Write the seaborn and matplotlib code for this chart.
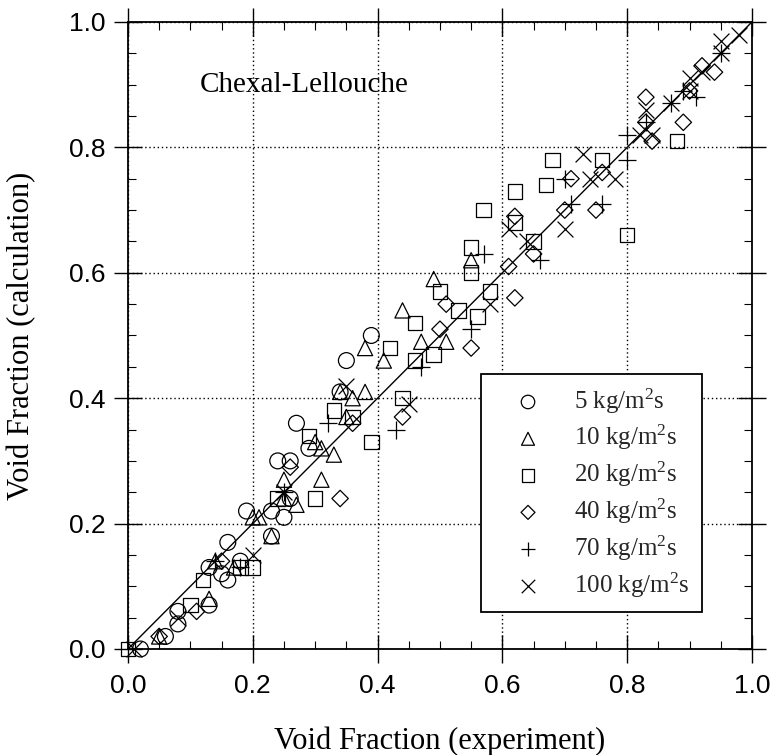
import matplotlib
matplotlib.use("Agg")
import matplotlib.pyplot as plt
import seaborn as sns
import pandas as pd
from matplotlib.ticker import MultipleLocator

# ---------------- data ----------------
g5_x = [0.02, 0.06, 0.08, 0.08, 0.13, 0.13, 0.15, 0.16, 0.16, 0.18, 0.19, 0.23, 0.23,
        0.24, 0.25, 0.26, 0.26, 0.27, 0.29, 0.34, 0.35, 0.39]
g5_y = [0.00, 0.02, 0.06, 0.04, 0.13, 0.07, 0.12, 0.17, 0.11, 0.14, 0.22, 0.22, 0.18,
        0.30, 0.21, 0.30, 0.24, 0.36, 0.32, 0.41, 0.46, 0.50]

g10_x = [0.05, 0.13, 0.14, 0.17, 0.20, 0.21, 0.23, 0.25, 0.25, 0.27, 0.30, 0.31, 0.33,
         0.31, 0.34, 0.35, 0.36, 0.38, 0.38, 0.41, 0.44, 0.47, 0.49, 0.51, 0.55]
g10_y = [0.02, 0.08, 0.14, 0.13, 0.21, 0.21, 0.18, 0.27, 0.24, 0.23, 0.33, 0.32, 0.31,
         0.27, 0.41, 0.37, 0.40, 0.41, 0.48, 0.46, 0.54, 0.49, 0.59, 0.49, 0.62]

g20_x = [0.00, 0.10, 0.12, 0.18, 0.20, 0.24, 0.29, 0.30, 0.33, 0.36, 0.39, 0.42, 0.44,
         0.46, 0.46, 0.49, 0.50, 0.53, 0.55, 0.55, 0.56, 0.58, 0.57, 0.62, 0.62, 0.65,
         0.67, 0.68, 0.76, 0.80, 0.88]
g20_y = [0.00, 0.07, 0.11, 0.13, 0.13, 0.24, 0.34, 0.24, 0.38, 0.37, 0.33, 0.48, 0.40,
         0.52, 0.46, 0.47, 0.57, 0.54, 0.64, 0.60, 0.53, 0.57, 0.70, 0.73, 0.68, 0.65,
         0.74, 0.78, 0.78, 0.66, 0.81]

g40_x = [0.05, 0.11, 0.15, 0.26, 0.34, 0.36, 0.44, 0.50, 0.51, 0.55, 0.61, 0.62, 0.62,
         0.65, 0.70, 0.71, 0.75, 0.76, 0.83, 0.83, 0.84, 0.89, 0.90, 0.92, 0.94]
g40_y = [0.02, 0.06, 0.14, 0.29, 0.24, 0.36, 0.37, 0.51, 0.55, 0.48, 0.61, 0.56, 0.69,
         0.63, 0.70, 0.75, 0.70, 0.76, 0.88, 0.84, 0.81, 0.84, 0.89, 0.93, 0.92]

g70_x = [0.14, 0.18, 0.25, 0.32, 0.43, 0.47, 0.55, 0.57, 0.66, 0.70, 0.71, 0.76, 0.80,
         0.80, 0.83, 0.87, 0.89, 0.91, 0.95]
g70_y = [0.14, 0.13, 0.25, 0.36, 0.35, 0.45, 0.51, 0.63, 0.62, 0.75, 0.71, 0.71, 0.78,
         0.82, 0.84, 0.87, 0.89, 0.88, 0.95]

g100_x = [0.01, 0.08, 0.20, 0.25, 0.35, 0.45, 0.58, 0.61, 0.64, 0.70, 0.73, 0.74, 0.78,
          0.82, 0.83, 0.84, 0.87, 0.90, 0.90, 0.92, 0.95, 0.95, 0.98]
g100_y = [0.00, 0.05, 0.15, 0.25, 0.42, 0.39, 0.55, 0.67, 0.65, 0.67, 0.79, 0.75, 0.75,
          0.82, 0.86, 0.82, 0.87, 0.91, 0.89, 0.92, 0.97, 0.95, 0.98]

series_labels = ["5 kg/m$^2$s", "10 kg/m$^2$s", "20 kg/m$^2$s",
                 "40 kg/m$^2$s", "70 kg/m$^2$s", "100 kg/m$^2$s"]
tick_values = [0.0, 0.2, 0.4, 0.6, 0.8, 1.0]
tick_labels = ["0.0", "0.2", "0.4", "0.6", "0.8", "1.0"]
x_label = "Void Fraction (experiment)"
y_label = "Void Fraction (calculation)"
annotation = "Chexal-Lellouche"

# ---------------- styling ----------------
sns.set_theme(style="white")
plt.rcParams["font.family"] = ["Liberation Serif", "DejaVu Serif"]
plt.rcParams["mathtext.fontset"] = "custom"
plt.rcParams["mathtext.rm"] = "Liberation Serif"
plt.rcParams["mathtext.it"] = "Liberation Serif:italic"
plt.rcParams["mathtext.bf"] = "Liberation Serif:bold"

fig = plt.figure(figsize=(7.76, 7.55), dpi=100)
ax = fig.add_axes([0.1649, 0.1404, 0.8041, 0.8305])

all_x = [g5_x, g10_x, g20_x, g40_x, g70_x, g100_x]
all_y = [g5_y, g10_y, g20_y, g40_y, g70_y, g100_y]
markers = ["o", "^", "s", "D", "+", "x"]
sizes = [130, 120, 110, 70, 150, 130]
filled = [True, True, True, True, False, False]

frames = []
for lab, xs, ys in zip(series_labels, all_x, all_y):
    frames.append(pd.DataFrame({"exp": xs, "calc": ys, "flux": lab}))
df = pd.concat(frames, ignore_index=True)

# reference line y = x
sns.lineplot(x=[0.0, 1.0], y=[0.0, 1.0], color="black", linewidth=1.0, ax=ax, zorder=2)

for lab, m, s, f in zip(series_labels, markers, sizes, filled):
    sub = df[df["flux"] == lab]
    kw = dict(marker=m, s=s, ax=ax, label=lab, zorder=3, clip_on=False)
    if f:
        kw.update(facecolor="none", edgecolor="black", linewidth=0.9)
    else:
        kw.update(color="black", linewidth=0.9)
    sns.scatterplot(data=sub, x="exp", y="calc", **kw)

ax.set_xlim(0, 1)
ax.set_ylim(0, 1)
ax.set_xticks(tick_values, labels=tick_labels, fontfamily="Liberation Sans", fontsize=19)
ax.set_yticks(tick_values, labels=tick_labels, fontfamily="Liberation Sans", fontsize=19)
ax.xaxis.set_minor_locator(MultipleLocator(0.05))
ax.yaxis.set_minor_locator(MultipleLocator(0.05))
ax.tick_params(which="major", direction="inout", length=20, width=1.0, color="black",
               top=True, right=True, bottom=True, left=True, labelcolor="black")
ax.tick_params(axis="x", which="major", pad=8)
ax.tick_params(axis="y", which="major", pad=6)
ax.tick_params(which="minor", direction="in", length=6, width=0.8, color="black",
               top=True, right=True, bottom=True, left=True)
ax.grid(True, which="major", linestyle=(0, (1, 2)), color="black", linewidth=1.0)
for sp in ax.spines.values():
    sp.set_color("black")
    sp.set_linewidth(1.3)

ax.set_xlabel(x_label, fontsize=22, color="black")
ax.set_ylabel(y_label, fontsize=22, color="black")
ax.xaxis.set_label_coords(0.5, -0.147)
ax.xaxis.label.set_verticalalignment("center")
ax.yaxis.set_label_coords(-0.170, 0.5)
ax.yaxis.label.set_verticalalignment("center")

ax.text(0.115, 0.90, annotation, fontsize=21, va="center", ha="left", color="black")

leg = ax.legend(loc="upper left", bbox_to_anchor=(0.565, 0.439), borderaxespad=0,
                fontsize=18, frameon=True, fancybox=False, framealpha=1,
                edgecolor="black", handlelength=2.8, handletextpad=0.45,
                borderpad=0.5, labelspacing=0.3, markerscale=0.85)
leg.get_frame().set_linewidth(1.3)

fig.savefig("out.png", dpi=100)
